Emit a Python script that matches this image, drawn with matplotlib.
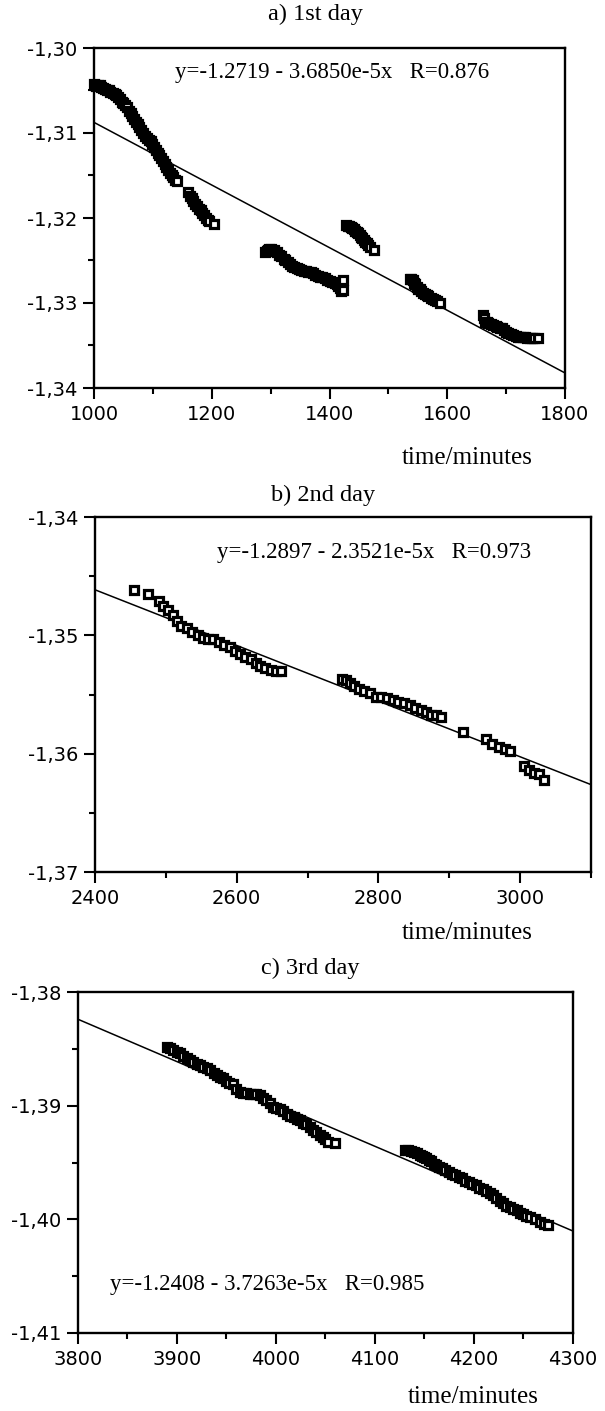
import matplotlib
matplotlib.use('Agg')
import matplotlib.pyplot as plt
from matplotlib.ticker import MultipleLocator, FuncFormatter

# ---- data ----
day1_t = [1000, 1002, 1004, 1007, 1010, 1012, 1015, 1018, 1022, 1025, 1028, 1032,
          1035, 1038, 1041, 1044, 1047, 1050, 1053, 1056, 1059, 1062, 1065, 1068,
          1071, 1074, 1077, 1080, 1084, 1087, 1090, 1093, 1096, 1099, 1102, 1105,
          1108, 1111, 1114, 1117, 1120, 1123, 1126, 1129, 1132, 1135, 1138, 1141,
          1160, 1163, 1166, 1169, 1172, 1175, 1178, 1181, 1184, 1187, 1190, 1193,
          1196, 1203,
          1290, 1293, 1295, 1298, 1300, 1305, 1310, 1314, 1318, 1322, 1325, 1329,
          1333, 1337, 1340, 1344, 1348, 1352, 1356, 1360, 1364, 1368, 1372, 1376,
          1380, 1384, 1388, 1392, 1396, 1400, 1405, 1409, 1412, 1415, 1418, 1420,
          1423, 1423,
          1428, 1431, 1433, 1436, 1438, 1441, 1443, 1446, 1448, 1451, 1453, 1456,
          1458, 1461, 1463, 1466, 1468, 1475,
          1536, 1539, 1541, 1544, 1546, 1549, 1551, 1554, 1556, 1559, 1562, 1565,
          1568, 1572, 1575, 1579, 1583, 1588,
          1660, 1662, 1664, 1667, 1670, 1674, 1678, 1682, 1685, 1689, 1693, 1697,
          1700, 1704, 1708, 1712, 1716, 1720, 1724, 1728, 1732, 1736, 1740, 1744,
          1748, 1754]
day1_y = [-1.3042, -1.3044, -1.3045, -1.3043, -1.3044, -1.3046, -1.3047, -1.3048,
          -1.3049, -1.3050, -1.3052, -1.3053, -1.3054, -1.3055, -1.3058, -1.3060,
          -1.3063, -1.3065, -1.3067, -1.3070, -1.3074, -1.3077, -1.3080, -1.3083,
          -1.3087, -1.3090, -1.3093, -1.3096, -1.3100, -1.3103, -1.3106, -1.3108,
          -1.3110, -1.3113, -1.3117, -1.3120, -1.3123, -1.3126, -1.3130, -1.3133,
          -1.3137, -1.3140, -1.3144, -1.3147, -1.3150, -1.3152, -1.3155, -1.3157,
          -1.3170, -1.3174, -1.3177, -1.3180, -1.3183, -1.3186, -1.3189, -1.3191,
          -1.3194, -1.3197, -1.3200, -1.3202, -1.3204, -1.3207,
          -1.3240, -1.3239, -1.3238, -1.3237, -1.3236, -1.3238, -1.3240, -1.3243,
          -1.3245, -1.3248, -1.3250, -1.3252, -1.3254, -1.3256, -1.3258, -1.3259,
          -1.3260, -1.3261, -1.3262, -1.3262, -1.3263, -1.3264, -1.3265, -1.3267,
          -1.3268, -1.3269, -1.3270, -1.3271, -1.3273, -1.3274, -1.3275, -1.3277,
          -1.3278, -1.3280, -1.3282, -1.3286, -1.3273, -1.3285,
          -1.3208, -1.3209, -1.3210, -1.3211, -1.3212, -1.3213, -1.3215, -1.3216,
          -1.3218, -1.3220, -1.3222, -1.3224, -1.3226, -1.3228, -1.3230, -1.3232,
          -1.3234, -1.3238,
          -1.3272, -1.3272, -1.3273, -1.3276, -1.3278, -1.3281, -1.3283, -1.3284,
          -1.3286, -1.3288, -1.3290, -1.3291, -1.3292, -1.3294, -1.3295, -1.3297,
          -1.3298, -1.3300,
          -1.3314, -1.3318, -1.3322, -1.3322, -1.3323, -1.3325, -1.3326, -1.3327,
          -1.3328, -1.3329, -1.3330, -1.3332, -1.3334, -1.3335, -1.3337, -1.3338,
          -1.3339, -1.3340, -1.3340, -1.3340, -1.3340, -1.3341, -1.3341, -1.3341,
          -1.3341, -1.3341]

day2_t = [2455, 2475, 2490, 2496, 2503, 2510, 2516, 2522, 2530, 2537, 2545, 2552,
          2560, 2567, 2575, 2582, 2590, 2597, 2605, 2612, 2620, 2627, 2633, 2640,
          2648, 2655, 2662,
          2748, 2754, 2760, 2766, 2772, 2780, 2788, 2796, 2804, 2812, 2820, 2828,
          2836, 2844, 2852, 2860, 2867, 2874, 2881, 2888,
          2920, 2952, 2960, 2970, 2978, 2985, 3005, 3012, 3020, 3026, 3033]
day2_y = [-1.3462, -1.3465, -1.3471, -1.3475, -1.3479, -1.3483, -1.3488, -1.3492,
          -1.3494, -1.3497, -1.3500, -1.3502, -1.3503, -1.3503, -1.3506, -1.3508,
          -1.3510, -1.3513, -1.3516, -1.3518, -1.3520, -1.3523, -1.3526, -1.3528,
          -1.3529, -1.3530, -1.3530,
          -1.3537, -1.3538, -1.3540, -1.3543, -1.3545, -1.3547, -1.3549, -1.3552,
          -1.3552, -1.3553, -1.3555, -1.3556, -1.3557, -1.3559, -1.3561, -1.3563,
          -1.3565, -1.3567, -1.3567, -1.3569,
          -1.3582, -1.3588, -1.3592, -1.3594, -1.3596, -1.3598, -1.3610, -1.3614,
          -1.3616, -1.3617, -1.3622]

day3_t = [3890, 3893, 3896, 3900, 3903, 3906, 3910, 3913, 3916, 3920, 3923, 3926,
          3930, 3933, 3937, 3940, 3943, 3946, 3950, 3953, 3957, 3960, 3964, 3967,
          3970, 3974, 3977, 3980, 3984, 3987, 3990, 3994, 3997, 4000, 4004, 4007,
          4011, 4014, 4018, 4021, 4024, 4027, 4030, 4034, 4037, 4040, 4044, 4047,
          4049, 4053, 4060,
          4130, 4133, 4136, 4139, 4142, 4145, 4147, 4150, 4152, 4155, 4157, 4160,
          4162, 4165, 4168, 4171, 4175, 4178, 4181, 4185, 4188, 4191, 4195, 4198,
          4202, 4205, 4209, 4212, 4216, 4219, 4222, 4226, 4229, 4232, 4236, 4239,
          4243, 4246, 4250, 4253, 4257, 4262, 4267, 4271, 4275]
day3_y = [-1.3848, -1.3849, -1.3851, -1.3853, -1.3854, -1.3856, -1.3858, -1.3860,
          -1.3862, -1.3863, -1.3864, -1.3866, -1.3867, -1.3869, -1.3871, -1.3873,
          -1.3875, -1.3876, -1.3878, -1.3880, -1.3881, -1.3885, -1.3888, -1.3889,
          -1.3889, -1.3890, -1.3890, -1.3890, -1.3891, -1.3893, -1.3895, -1.3898,
          -1.3901, -1.3902, -1.3903, -1.3905, -1.3907, -1.3909, -1.3910, -1.3912,
          -1.3913, -1.3915, -1.3916, -1.3919, -1.3921, -1.3923, -1.3926, -1.3928,
          -1.3929, -1.3932, -1.3933,
          -1.3939, -1.3939, -1.3940, -1.3941, -1.3942, -1.3943, -1.3944, -1.3945,
          -1.3946, -1.3948, -1.3949, -1.3951, -1.3952, -1.3954, -1.3955, -1.3957,
          -1.3958, -1.3960, -1.3961, -1.3963, -1.3964, -1.3966, -1.3967, -1.3969,
          -1.3970, -1.3972, -1.3973, -1.3975, -1.3977, -1.3979, -1.3981, -1.3984,
          -1.3986, -1.3988, -1.3989, -1.3991, -1.3992, -1.3994, -1.3995, -1.3997,
          -1.3998, -1.4000, -1.4002, -1.4004, -1.4005]

# fit coefficients (intercept, slope) printed on each panel
fit_a = [-1.2719, -3.6850e-5]
fit_b = [-1.2897, -2.3521e-5]
fit_c = [-1.2408, -3.7263e-5]
eq_a = 'y=-1.2719 - 3.6850e-5x   R=0.876'
eq_b = 'y=-1.2897 - 2.3521e-5x   R=0.973'
eq_c = 'y=-1.2408 - 3.7263e-5x   R=0.985'

titles = ['a) 1st day', 'b) 2nd day', 'c) 3rd day']

W, H = 605, 1411
SERIF = 'Liberation Serif'
SANS = 'DejaVu Sans'


def comma_fmt(v, pos):
    return ('%.2f' % v).replace('.', ',')


def make_axes(fig, left, right, top, bottom):
    return fig.add_axes([left / W, 1 - bottom / H, (right - left) / W, (bottom - top) / H])


def draw_panel(ax, t, y, fit, xlim, ylim, xstep, eq, eq_pos):
    ax.set_xlim(xlim)
    ax.set_ylim(ylim)
    ax.plot(xlim, [fit[0] + fit[1] * xlim[0], fit[0] + fit[1] * xlim[1]],
            color='black', lw=1.1, zorder=2)
    ax.plot(t, y, 's', ms=5.2, mfc='white', mec='black', mew=2.3, zorder=3,
            clip_on=False)
    ax.xaxis.set_major_locator(MultipleLocator(xstep))
    ax.xaxis.set_minor_locator(MultipleLocator(xstep / 2))
    ax.yaxis.set_major_locator(MultipleLocator(0.01))
    ax.yaxis.set_minor_locator(MultipleLocator(0.005))
    ax.yaxis.set_major_formatter(FuncFormatter(comma_fmt))
    ax.tick_params(which='major', direction='out', length=8, width=1.5,
                   labelsize=14, pad=4)
    ax.tick_params(which='minor', direction='out', length=4, width=1.5)
    for lab in ax.get_xticklabels() + ax.get_yticklabels():
        lab.set_family(SANS)
    for sp in ax.spines.values():
        sp.set_linewidth(1.7)
    ax.text(eq_pos[0], eq_pos[1], eq, transform=ax.transAxes, ha='left',
            va='center', family=SERIF, fontsize=16.5)


fig = plt.figure(figsize=(W / 100, H / 100), dpi=100)

ax1 = make_axes(fig, 94, 565, 48, 388)
draw_panel(ax1, day1_t, day1_y, fit_a, (1000, 1800), (-1.34, -1.30), 200,
           eq_a, (0.172, 0.929))
ax2 = make_axes(fig, 95, 591, 517, 872)
draw_panel(ax2, day2_t, day2_y, fit_b, (2400, 3100), (-1.37, -1.34), 200,
           eq_b, (0.246, 0.901))
ax3 = make_axes(fig, 78, 573, 992, 1333)
draw_panel(ax3, day3_t, day3_y, fit_c, (3800, 4300), (-1.41, -1.38), 100,
           eq_c, (0.065, 0.141))

# panel titles and x labels
for title, (cx, cy) in zip(titles, [(315, 14), (323, 495), (310, 968)]):
    fig.text(cx / W, 1 - cy / H, title, ha='center', va='center',
             family=SERIF, fontsize=17.5)
for (lx, ly) in [(402, 458), (402, 933), (408, 1397)]:
    fig.text(lx / W, 1 - ly / H, 'time/minutes', ha='left', va='center',
             family=SERIF, fontsize=18)

fig.savefig('out.png', dpi=100)
